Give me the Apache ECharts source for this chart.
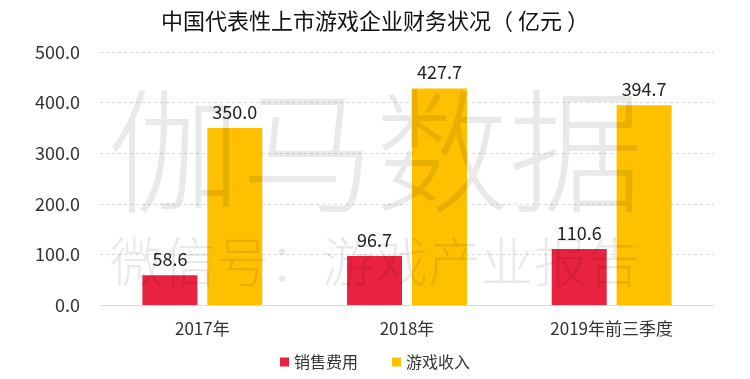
<!DOCTYPE html>
<html>
<head>
<meta charset="utf-8">
<script src="https://cdn.jsdelivr.net/npm/echarts@6/dist/echarts.min.js"></script>
<style>
html,body{margin:0;padding:0;background:#fff;}
#c{width:750px;height:379px;}
</style>
</head>
<body>
<div id="c"></div>
<script>
var categories = ['2017年', '2018年', '2019年前三季度'];
var salesCost = [58.6, 96.7, 110.6];
var gameRevenue = [350.0, 427.7, 394.7];
var seriesNames = ['销售费用', '游戏收入'];

var FONT = '"Noto Sans CJK SC", "Noto Sans", sans-serif';
var chart = echarts.init(document.getElementById('c'), null, {renderer: 'canvas'});
chart.setOption({
  backgroundColor: '#ffffff',
  animation: false,
  title: {
    text: '中国代表性上市游戏企业财务状况（ 亿元 ）',
    left: 'center',
    top: 5,
    textStyle: {fontFamily: FONT, fontSize: 22, fontWeight: 'normal', color: '#111'}
  },
  legend: {
    data: seriesNames,
    bottom: 4,
    left: 'center',
    itemWidth: 9,
    itemHeight: 9,
    itemGap: 34,
    icon: 'rect',
    textStyle: {fontFamily: FONT, fontSize: 16, color: '#333'}
  },
  grid: {left: 100, right: 36, top: 52, bottom: 74},
  xAxis: {
    type: 'category',
    data: categories,
    axisTick: {show: false},
    axisLine: {lineStyle: {color: '#d9d9d9', width: 1}},
    axisLabel: {fontFamily: FONT, fontSize: 17, color: '#333', margin: 15}
  },
  yAxis: {
    type: 'value',
    min: 0,
    max: 500,
    interval: 100,
    axisLine: {show: false},
    axisTick: {show: false},
    axisLabel: {fontFamily: FONT, fontSize: 18, color: '#333', margin: 20,
      formatter: function (v) { return v.toFixed(1); }},
    splitLine: {lineStyle: {color: '#d9d9d9', type: [3, 3], width: 1}}
  },
  series: [
    {
      name: seriesNames[0],
      type: 'bar',
      data: salesCost,
      barWidth: 55,
      barGap: '18%',
      itemStyle: {color: '#E8223F'},
      label: {show: true, position: 'top', distance: 7, fontFamily: FONT, fontSize: 18, color: '#222',
        formatter: function (p) { return p.value.toFixed(1); }}
    },
    {
      name: seriesNames[1],
      type: 'bar',
      data: gameRevenue,
      barWidth: 55,
      itemStyle: {color: '#FFC000'},
      label: {show: true, position: 'top', distance: 7, fontFamily: FONT, fontSize: 18, color: '#222',
        formatter: function (p) { return p.value.toFixed(1); }}
    }
  ],
  graphic: [
    {
      type: 'text', left: 'center', top: 84, z: 100, silent: true,
      style: {text: '伽马数据', fontFamily: FONT, fontSize: 134, fontWeight: 300, fill: 'rgba(0,0,0,0.085)'}
    },
    {
      type: 'text', left: 'center', top: 235, z: 100, silent: true,
      style: {text: '微信号：游戏产业报告', fontFamily: FONT, fontSize: 53, fontWeight: 300, fill: 'rgba(0,0,0,0.085)'}
    }
  ]
});
</script>
</body>
</html>
